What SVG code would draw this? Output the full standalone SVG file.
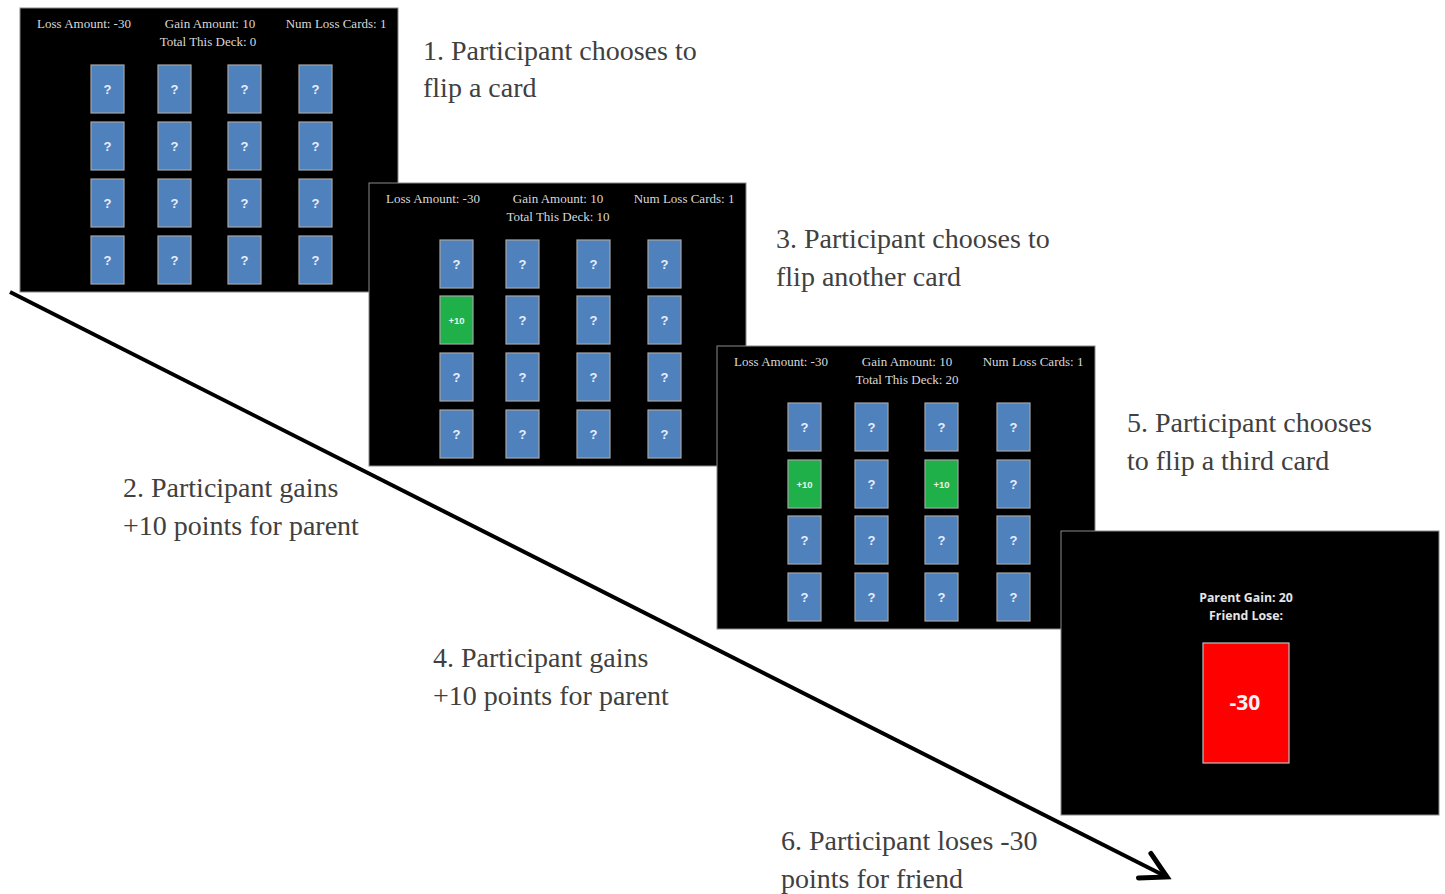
<svg xmlns="http://www.w3.org/2000/svg" xmlns:xlink="http://www.w3.org/1999/xlink" width="1445" height="894" viewBox="0 0 1445 894">
<style>
.screen{fill:#000;stroke:#8a8a8a;stroke-width:1}
.hdr{font-family:"Liberation Serif",serif;font-size:13px;fill:#d9d9d9;text-anchor:middle}
.card{fill:#4f81bd;stroke:#a6a6a6;stroke-width:1.2}
.green{fill:#1fb04a;stroke:#a6a6a6;stroke-width:1.2}
.q{font-family:"Liberation Sans",Arial,sans-serif;font-weight:bold;font-size:13px;fill:#e8eef8;text-anchor:middle}
.p{font-family:"Liberation Sans",Arial,sans-serif;font-weight:bold;font-size:9.5px;fill:#e8f5e8;text-anchor:middle}
.lbl{font-family:"Liberation Serif","Times New Roman",serif;font-size:28px;fill:#404040}
.res{font-family:"Open Sans","Liberation Sans",sans-serif;font-weight:bold;font-size:12.3px;fill:#e6e6e6;text-anchor:middle}
.conn{stroke:#000;stroke-width:4;fill:none}
</style>
<defs>
<g id="c"><rect class="card" x="0" y="0" width="33" height="48"/><text class="q" x="16.5" y="29">?</text></g>
<g id="g"><rect class="green" x="0" y="0" width="33" height="48"/><text class="p" x="16.5" y="28">+10</text></g>
<marker id="ah" markerUnits="userSpaceOnUse" markerWidth="40" markerHeight="40" refX="0" refY="0" viewBox="-24 -16 30 32" orient="auto" overflow="visible">
<path d="M-20,-11 L0,0 L-20,11" fill="none" stroke="#000" stroke-width="4" stroke-linecap="round" stroke-linejoin="miter"/>
</marker>
</defs>

<g id="connectors">
<line class="conn" x1="10" y1="292" x2="1167" y2="877" marker-end="url(#ah)"/>
</g>

<g id="screen1" transform="translate(20,8)">
<rect class="screen" x="0" y="0" width="378" height="284"/>
<text class="hdr" x="64" y="20">Loss Amount: -30</text>
<text class="hdr" x="190" y="20">Gain Amount: 10</text>
<text class="hdr" x="316" y="20">Num Loss Cards: 1</text>
<text class="hdr" x="188" y="38">Total This Deck: 0</text>
<use href="#c" x="71" y="57"/><use href="#c" x="138" y="57"/><use href="#c" x="208" y="57"/><use href="#c" x="279" y="57"/>
<use href="#c" x="71" y="114"/><use href="#c" x="138" y="114"/><use href="#c" x="208" y="114"/><use href="#c" x="279" y="114"/>
<use href="#c" x="71" y="171"/><use href="#c" x="138" y="171"/><use href="#c" x="208" y="171"/><use href="#c" x="279" y="171"/>
<use href="#c" x="71" y="228"/><use href="#c" x="138" y="228"/><use href="#c" x="208" y="228"/><use href="#c" x="279" y="228"/>
</g>

<g id="screen2" transform="translate(369,183)">
<rect class="screen" x="0" y="0" width="377" height="283"/>
<text class="hdr" x="64" y="20">Loss Amount: -30</text>
<text class="hdr" x="189" y="20">Gain Amount: 10</text>
<text class="hdr" x="315" y="20">Num Loss Cards: 1</text>
<text class="hdr" x="189" y="38">Total This Deck: 10</text>
<use href="#c" x="71" y="57"/><use href="#c" x="137" y="57"/><use href="#c" x="208" y="57"/><use href="#c" x="279" y="57"/>
<use href="#g" x="71" y="113"/><use href="#c" x="137" y="113"/><use href="#c" x="208" y="113"/><use href="#c" x="279" y="113"/>
<use href="#c" x="71" y="170"/><use href="#c" x="137" y="170"/><use href="#c" x="208" y="170"/><use href="#c" x="279" y="170"/>
<use href="#c" x="71" y="227"/><use href="#c" x="137" y="227"/><use href="#c" x="208" y="227"/><use href="#c" x="279" y="227"/>
</g>

<g id="screen3" transform="translate(717,346)">
<rect class="screen" x="0" y="0" width="378" height="283"/>
<text class="hdr" x="64" y="20">Loss Amount: -30</text>
<text class="hdr" x="190" y="20">Gain Amount: 10</text>
<text class="hdr" x="316" y="20">Num Loss Cards: 1</text>
<text class="hdr" x="190" y="38">Total This Deck: 20</text>
<use href="#c" x="71" y="57"/><use href="#c" x="138" y="57"/><use href="#c" x="208" y="57"/><use href="#c" x="280" y="57"/>
<use href="#g" x="71" y="114"/><use href="#c" x="138" y="114"/><use href="#g" x="208" y="114"/><use href="#c" x="280" y="114"/>
<use href="#c" x="71" y="170"/><use href="#c" x="138" y="170"/><use href="#c" x="208" y="170"/><use href="#c" x="280" y="170"/>
<use href="#c" x="71" y="227"/><use href="#c" x="138" y="227"/><use href="#c" x="208" y="227"/><use href="#c" x="280" y="227"/>
</g>

<g id="screen4">
<rect class="screen" x="1061" y="531" width="378" height="284"/>
<text class="res" x="1246" y="602">Parent Gain: 20</text>
<text class="res" x="1246" y="620">Friend Lose:</text>
<rect x="1203" y="643" width="86" height="120" fill="#ff0000" stroke="#bfbfbf" stroke-width="1.2"/>
<text x="1245" y="710" font-family="'Open Sans','Liberation Sans',sans-serif" font-weight="bold" font-size="21" fill="#f2f2f2" text-anchor="middle">-30</text>
</g>

<g id="label1"><text class="lbl" x="423" y="60">1. Participant chooses to</text><text class="lbl" x="423" y="97">flip a card</text></g>
<g id="label2"><text class="lbl" x="123" y="497">2. Participant gains</text><text class="lbl" x="123" y="535">+10 points for parent</text></g>
<g id="label3"><text class="lbl" x="776" y="248">3. Participant chooses to</text><text class="lbl" x="776" y="286">flip another card</text></g>
<g id="label4"><text class="lbl" x="433" y="667">4. Participant gains</text><text class="lbl" x="433" y="705">+10 points for parent</text></g>
<g id="label5"><text class="lbl" x="1127" y="432">5. Participant chooses</text><text class="lbl" x="1127" y="470">to flip a third card</text></g>
<g id="label6"><text class="lbl" x="781" y="850">6. Participant loses -30</text><text class="lbl" x="781" y="888">points for friend</text></g>
</svg>
